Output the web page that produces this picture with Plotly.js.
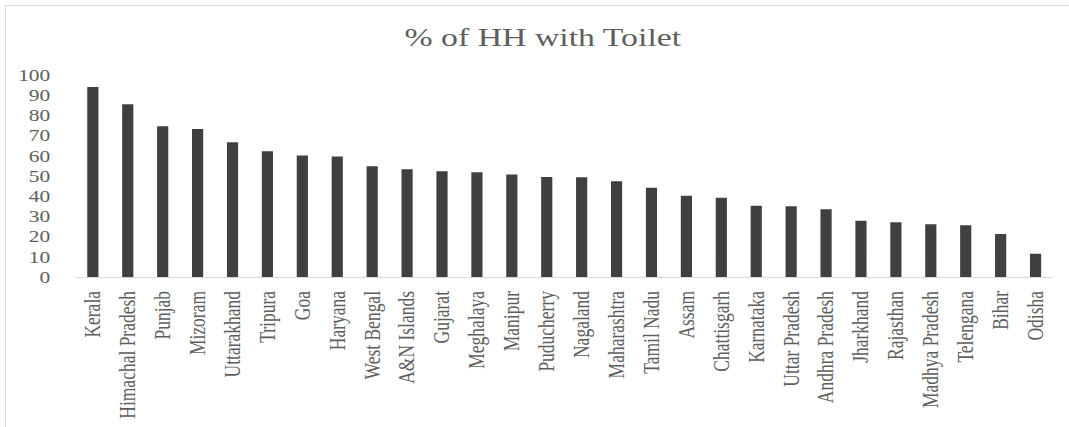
<!DOCTYPE html>
<html>
<head>
<meta charset="utf-8">
<script src="https://cdn.plot.ly/plotly-3.0.1.min.js"></script>
<style>
html,body{margin:0;padding:0;background:#fff;overflow:hidden;}
#wrap{position:absolute;left:0;top:0;width:1069px;height:427px;overflow:hidden;}
#frame{position:absolute;left:5px;top:5px;width:1070px;height:430px;border:1px solid #d9d9d9;box-sizing:border-box;pointer-events:none;}
#chart{position:absolute;left:0;top:0;width:822px;height:427px;transform-origin:0 0;transform:scaleX(1.3);}
</style>
</head>
<body>
<div id="wrap">
<div id="chart"></div>
<div id="frame"></div>
</div>
<script>
const states = ["Kerala","Himachal Pradesh","Punjab","Mizoram","Uttarakhand","Tripura","Goa","Haryana","West Bengal","A&N Islands","Gujarat","Meghalaya","Manipur","Puducherry","Nagaland","Maharashtra","Tamil Nadu","Assam","Chattisgarh","Karnataka","Uttar Pradesh","Andhra Pradesh","Jharkhand","Rajasthan","Madhya Pradesh","Telengana","Bihar","Odisha"];
const pctToilet = [94,85.5,74.6,73.3,66.7,62.2,60.2,59.6,54.8,53.3,52.3,51.8,50.8,49.5,49.4,47.4,44.2,40.2,39.2,35.3,35.0,33.5,27.9,27.1,26.1,25.6,21.3,11.5];
const yTicks = [0,10,20,30,40,50,60,70,80,90,100];

const font = "Liberation Serif";
const txt = '#5e5e5e';
Plotly.newPlot('chart', [{
  type: 'bar',
  x: states,
  y: pctToilet,
  width: 0.32,
  marker: {color: '#404040', line: {color: '#404040', width: 0}},
  hoverinfo: 'x+y'
}], {
  width: 822, height: 427,
  margin: {l: 58, r: 12, t: 75, b: 150, pad: 0},
  paper_bgcolor: 'rgba(0,0,0,0)',
  plot_bgcolor: 'rgba(0,0,0,0)',
  font: {family: font, color: txt},
  title: {text: '% of HH with Toilet', x: 0.508, xanchor: 'center', y: 0.913, yanchor: 'middle',
          font: {family: font, size: 26, color: txt}},
  showlegend: false,
  xaxis: {
    type: 'category',
    tickangle: -90,
    tickfont: {family: font, size: 17.5, color: txt},
    showgrid: false, zeroline: false,
    showline: true, linecolor: '#d9d9d9', linewidth: 1,
    ticks: 'outside', ticklen: 6, tickcolor: 'rgba(0,0,0,0)',
    automargin: false
  },
  yaxis: {
    range: [0, 100],
    tickvals: yTicks,
    ticktext: yTicks.map(String),
    tickfont: {family: font, size: 16.5, color: txt},
    showgrid: false, zeroline: false, showline: false,
    ticks: 'outside', ticklen: 15, tickcolor: 'rgba(0,0,0,0)',
    automargin: false
  },
  bargap: 0.68
}, {displayModeBar: false, staticPlot: true});
</script>
</body>
</html>
